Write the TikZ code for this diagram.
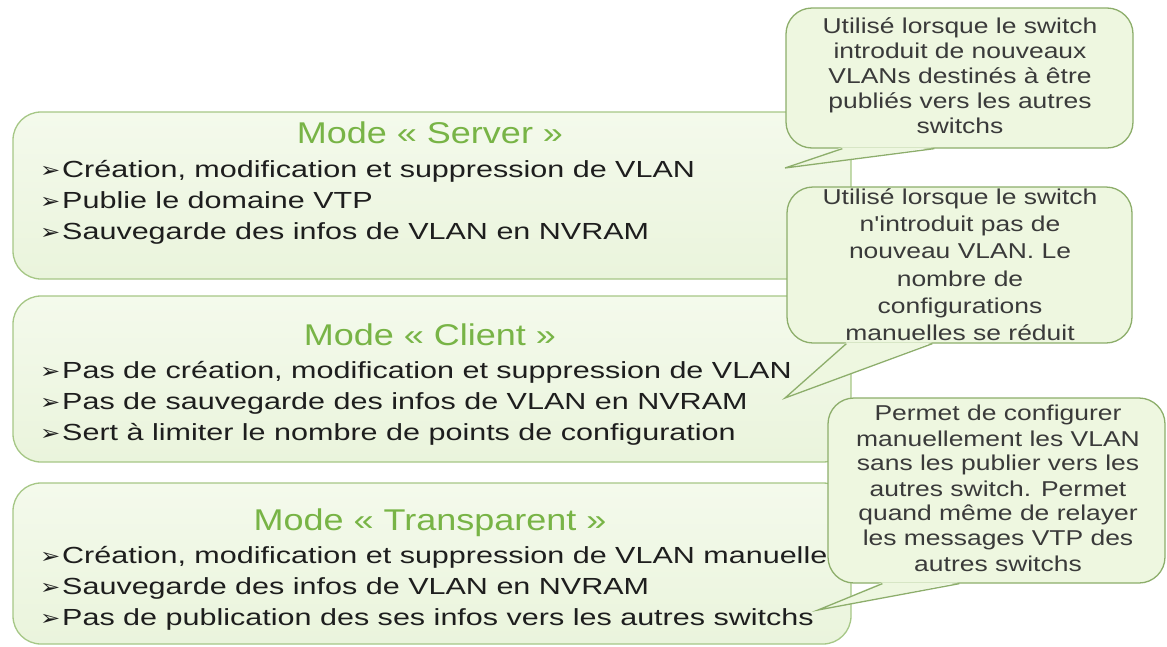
\documentclass[tikz,border=0pt]{standalone}
\usepackage{fontspec}
\setmainfont{Liberation Sans}
\newfontfamily\corpsfont[FakeStretch=1.31]{Liberation Sans}
\newfontfamily\titrefont[FakeStretch=1.2]{Liberation Sans}
\newfontfamily\notefont[FakeStretch=1.23]{Liberation Sans}
\newfontfamily\pucefont[FakeStretch=1.15]{DejaVu Sans}

\definecolor{fondhaut}{HTML}{F4FAEC}
\definecolor{fondbas}{HTML}{EAF4DC}
\definecolor{bordmode}{HTML}{A6C786}
\definecolor{vertitre}{HTML}{78B446}
\definecolor{fondbulle}{HTML}{EEF7E0}
\definecolor{bordbulle}{HTML}{8DAE6B}
\definecolor{texte}{HTML}{1E1E1E}
\definecolor{textenote}{HTML}{3A3A3A}

% arrowhead bullet placed in front of every item
\newcommand{\fleche}{\makebox[22pt][l]{\pucefont\fontsize{21}{21}\selectfont ➢}}
% struts that fix the height of the first and last line of a note
\newcommand{\lignehaut}{\rule{0pt}{15.5pt}}
\newcommand{\lignebas}{\rule[-4.6pt]{0pt}{4.6pt}}

\tikzset{
  modebox/.style={draw=bordmode, line width=1.3pt, rounded corners=28pt,
    top color=fondhaut, bottom color=fondbas, inner sep=0pt},
  bulle/.style={draw=bordbulle, line width=1.3pt, rounded corners=26pt,
    fill=fondbulle, inner sep=0pt},
  pointefill/.style={fill=fondbulle},
  pointetrait/.style={draw=bordbulle, line width=1.3pt},
  titre/.style={anchor=base, inner sep=0pt, text=vertitre,
    font=\titrefont\fontsize{30}{30}\selectfont},
  ligne/.style={anchor=base west, inner sep=0pt, text=texte,
    font=\corpsfont\fontsize{23.3}{31}\selectfont},
  note/.style={align=center, inner sep=0pt, text=textenote,
    font=\notefont\fontsize{21.5}{25}\selectfont},
}

\begin{document}
\begin{tikzpicture}[x=1pt,y=-1pt]
\fill[white] (0,0) rectangle (1167,646);
\useasboundingbox (0,0) rectangle (1167,646);

% ---- the three VTP modes ----
\node[modebox, minimum width=838pt, minimum height=167pt] (srv) at (432,195.5) {};
\node[modebox, minimum width=838pt, minimum height=166pt] (cli) at (432,379) {};
\node[modebox, minimum width=838pt, minimum height=161pt] (trn) at (432,563.5) {};

\node[titre] (srvT) at (430,143) {Mode « Server »};
\node[ligne] (srv1) at (40,177) {\fleche Création, modification et suppression de VLAN};
\node[ligne] (srv2) at (40,208) {\fleche Publie le domaine VTP};
\node[ligne] (srv3) at (40,239) {\fleche Sauvegarde des infos de VLAN en NVRAM};

\node[titre] (cliT) at (430,345) {Mode « Client »};
\node[ligne] (cli1) at (40,378) {\fleche Pas de création, modification et suppression de VLAN};
\node[ligne] (cli2) at (40,409) {\fleche Pas de sauvegarde des infos de VLAN en NVRAM};
\node[ligne] (cli3) at (40,440) {\fleche Sert à limiter le nombre de points de configuration};

\node[titre] (trnT) at (430,530) {Mode « Transparent »};
\node[ligne] (trn1) at (40,563) {\fleche Création, modification et suppression de VLAN manuelle};
\node[ligne] (trn2) at (40,594) {\fleche Sauvegarde des infos de VLAN en NVRAM};
\node[ligne] (trn3) at (40,625) {\fleche Pas de publication des ses infos vers les autres switchs};

% ---- callout tips ----
\coordinate (k1) at (785,168);
\coordinate (k2) at (785,398);
\coordinate (k3) at (818,610);

% ---- callout: server ----
\node[bulle, minimum width=347pt, minimum height=140pt] (b1) at (959.5,78) {};
\fill[pointefill] ([xshift=57pt,yshift=1.4pt]b1.south west) -- (k1)
  -- ([xshift=149pt,yshift=1.4pt]b1.south west) -- cycle;
\draw[pointetrait] ([xshift=57pt]b1.south west) -- (k1) -- ([xshift=149pt]b1.south west);
\node[note] (n1) at (960,77.5) {\lignehaut Utilisé lorsque le switch\\introduit de nouveaux\\VLANs destinés à être\\publiés vers les autres\\switchs\lignebas};

% ---- callout: client ----
\node[bulle, minimum width=345pt, minimum height=156pt] (b2) at (959.5,265) {};
\fill[pointefill] ([xshift=60pt,yshift=1.4pt]b2.south west) -- (k2)
  -- ([xshift=146pt,yshift=1.4pt]b2.south west) -- cycle;
\draw[pointetrait] ([xshift=60pt]b2.south west) -- (k2) -- ([xshift=146pt]b2.south west);
\node[note, font=\notefont\fontsize{21.5}{27.3}\selectfont] (n2) at (960,266.8)
  {\lignehaut Utilisé lorsque le switch\\n'introduit pas de\\nouveau VLAN. Le\\nombre de\\configurations\\manuelles se réduit\lignebas};

% ---- callout: transparent ----
\node[bulle, minimum width=337pt, minimum height=185pt] (b3) at (996.5,490.5) {};
\fill[pointefill] ([xshift=55pt,yshift=1.4pt]b3.south west) -- (k3)
  -- ([xshift=132pt,yshift=1.4pt]b3.south west) -- cycle;
\draw[pointetrait] ([xshift=55pt]b3.south west) -- (k3) -- ([xshift=132pt]b3.south west);
\node[note] (n3) at (998,490.5) {\lignehaut Permet de configurer\\manuellement les VLAN\\sans les publier vers les\\autres switch. Permet\\quand même de relayer\\les messages VTP des\\autres switchs\lignebas};
\end{tikzpicture}
\end{document}
